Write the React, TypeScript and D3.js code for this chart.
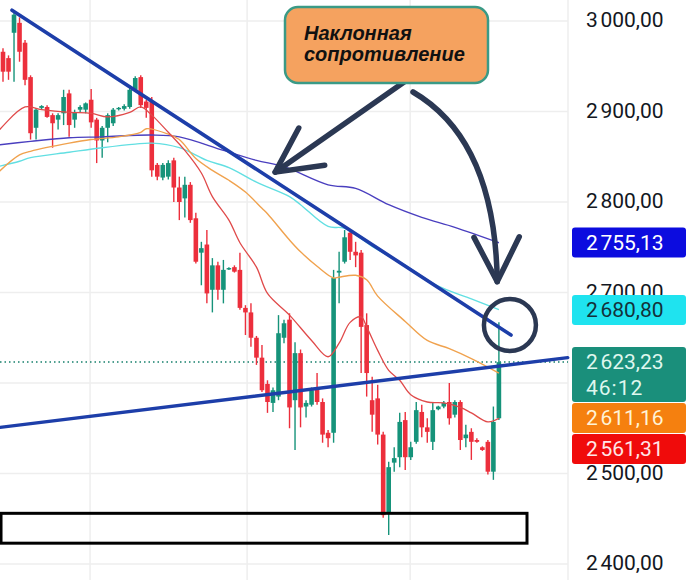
import React from 'react';
import * as d3 from 'd3';

// candles, oldest first
const open = [
  2966, 2959, 2987, 2998, 2976, 2938, 2882, 2904, 2905, 2896,
  2891, 2898, 2920, 2891, 2902, 2902, 2913, 2891, 2868, 2882,
  2887, 2903, 2903, 2905, 2924, 2938, 2911, 2911, 2841, 2827,
  2828, 2846, 2816, 2804, 2819, 2782, 2744, 2753, 2703, 2730,
  2703, 2726, 2728, 2725, 2683, 2678, 2650, 2628, 2599, 2578,
  2585, 2650, 2670, 2581, 2633, 2574, 2576, 2595, 2579, 2545,
  2545, 2722, 2734, 2766, 2745, 2744, 2664, 2581, 2583, 2543,
  2456, 2512, 2518, 2559, 2518, 2535, 2568, 2551, 2535, 2571,
  2574, 2579, 2565, 2579, 2539, 2546, 2537, 2529, 2535, 2502,
  2561,
];
const high = [
  2970, 2962, 3012, 3004, 2979, 2940, 2904, 2907, 2907, 2898,
  2898, 2924, 2924, 2902, 2907, 2910, 2925, 2893, 2884, 2898,
  2904, 2905, 2908, 2929, 2939, 2940, 2913, 2916, 2843, 2843,
  2846, 2849, 2828, 2828, 2822, 2788, 2756, 2769, 2738, 2734,
  2736, 2728, 2730, 2744, 2686, 2688, 2652, 2642, 2603, 2595,
  2675, 2670, 2677, 2645, 2637, 2581, 2595, 2611, 2583, 2548,
  2725, 2745, 2769, 2769, 2756, 2747, 2677, 2607, 2598, 2546,
  2513, 2529, 2567, 2568, 2535, 2579, 2576, 2561, 2578, 2575,
  2580, 2600, 2581, 2581, 2554, 2550, 2539, 2530, 2537, 2574,
  2667,
];
const low = [
  2933, 2935, 2933, 2955, 2929, 2869, 2869, 2902, 2893, 2860,
  2880, 2885, 2872, 2882, 2899, 2898, 2882, 2843, 2849, 2866,
  2884, 2901, 2901, 2903, 2922, 2904, 2893, 2828, 2824, 2824,
  2825, 2800, 2780, 2783, 2777, 2732, 2708, 2688, 2678, 2692,
  2688, 2725, 2722, 2681, 2653, 2640, 2620, 2590, 2567, 2568,
  2581, 2644, 2550, 2526, 2551, 2562, 2574, 2576, 2534, 2529,
  2534, 2688, 2732, 2736, 2728, 2611, 2585, 2546, 2532, 2451,
  2432, 2502, 2507, 2504, 2515, 2533, 2540, 2534, 2526, 2570,
  2572, 2554, 2562, 2526, 2529, 2515, 2534, 2525, 2499, 2493,
  2559,
];
const close = [
  2944, 2944, 3007, 2966, 2935, 2876, 2902, 2906, 2894, 2887,
  2896, 2916, 2885, 2899, 2905, 2909, 2888, 2868, 2882, 2896,
  2902, 2904, 2906, 2924, 2937, 2907, 2904, 2835, 2828, 2841,
  2843, 2816, 2800, 2819, 2780, 2734, 2749, 2699, 2730, 2703,
  2725, 2727, 2723, 2683, 2678, 2650, 2628, 2592, 2579, 2592,
  2655, 2666, 2573, 2633, 2573, 2578, 2592, 2579, 2543, 2539,
  2716, 2724, 2761, 2745, 2741, 2662, 2611, 2565, 2543, 2454,
  2507, 2517, 2557, 2518, 2529, 2570, 2551, 2546, 2570, 2574,
  2578, 2561, 2579, 2537, 2543, 2535, 2535, 2526, 2502, 2557,
  2623,
];

// moving averages: [candle index, price]
const maRed: [number, number][] = [
  [-1, 2877], [4, 2905], [7, 2902], [12, 2899], [16, 2898], [19, 2894], [23, 2899],
  [25, 2905], [27, 2896], [30, 2877], [33, 2857], [36, 2832], [38, 2806], [41, 2780],
  [43, 2755], [46, 2728], [48, 2699], [52, 2675], [56, 2647], [59, 2629], [61, 2644],
  [63, 2667], [65, 2673], [66, 2662], [68, 2636], [70, 2614], [72, 2603], [74, 2587],
  [77, 2579], [80, 2578], [83, 2573], [85, 2567], [88, 2557], [90, 2561],
];
const maOrange: [number, number][] = [
  [-1, 2832], [3, 2852], [5, 2856], [12, 2865], [16, 2869], [21, 2872], [25, 2877],
  [26, 2881], [30, 2875], [32, 2869], [35, 2848], [38, 2835], [41, 2824], [44, 2811],
  [47, 2793], [48, 2787], [52, 2758], [54, 2745], [57, 2729], [60, 2716], [61, 2717],
  [64, 2719], [66, 2714], [68, 2696], [73, 2668], [77, 2647], [81, 2638], [85, 2627],
  [90, 2611],
];
const maCyan: [number, number][] = [
  [-1, 2839], [3, 2845], [5, 2849], [12, 2855], [18, 2860], [24, 2864], [27, 2865],
  [32, 2860], [37, 2846], [41, 2838], [46, 2822], [52, 2806], [54, 2797], [59, 2773],
  [62, 2771], [67, 2751], [73, 2730], [79, 2707], [85, 2693], [90, 2681],
];
const maPurple: [number, number][] = [
  [-1, 2863], [5, 2867], [12, 2871], [18, 2872], [27, 2874], [32, 2872], [40, 2857],
  [46, 2846], [51, 2839], [59, 2819], [64, 2815], [70, 2797], [76, 2783], [82, 2772],
  [90, 2755],
];

const priceTicks = [3000, 2900, 2800, 2700, 2600, 2500, 2400];
const timeGrid = [15.8, 44.3, 73.9];

// drawn lines: [index, price]
const resistLine: [number, number][] = [[1.63, 3012], [92.2, 2653]];
const supportLine: [number, number][] = [[-0.54, 2551], [102.5, 2628]];
const zoneIdx = [-0.36, 95.1];
const zonePrice = [2423, 2456];

const lastPrice = 2623.23;
const countdown = '46:12';
const tags = [
  { value: 2755.13, fill: '#0c0cdf', text: '#ffffff', lines: 1 },
  { value: 2680.8, fill: '#1fe3ef', text: '#13313a', lines: 1 },
  { value: lastPrice, fill: '#1a8f7b', text: '#dff7ee', lines: 2 },
  { value: 2611.16, fill: '#f5800f', text: '#fff3d6', lines: 1 },
  { value: 2561.31, fill: '#f00b0b', text: '#ffe6e6', lines: 1 },
];

const W = 692;
const H = 580;
const plotRight = 568;
const UP = '#16937a';
const DOWN = '#ec2f3c';
const NAVY = '#2b3853';

const fmt = d3.formatLocale({
  decimal: ',',
  thousands: '\u202f',
  grouping: [3],
  currency: ['', ''],
}).format(',.2f');

export default function App() {
  const x = d3.scaleLinear().domain([0, 90]).range([3, 498.9]);
  const y = d3.scaleLinear().domain([2400, 3000]).range([564, 21]);

  const maLine = d3.line<[number, number]>()
    .x(d => x(d[0]))
    .y(d => y(d[1]))
    .curve(d3.curveCatmullRom.alpha(0.5));

  const bodyW = 4.6;

  // stack the price tags so they don't overlap
  let prevBottom = -Infinity;
  const placed = tags.map(t => {
    const h = t.lines === 2 ? 55 : 30;
    const top = Math.max(y(t.value) - 15, prevBottom + 1);
    prevBottom = top + h;
    return { ...t, top, h };
  });
  const hiddenTick = (p: number) =>
    placed.some(t => y(p) > t.top + 4 && y(p) < t.top + t.h - 4);

  // arrows
  const a1tail = [407, 80];
  const a1tip = [x(49.4), y(2833)];
  const a2tail = [413, 92];
  const a2tip = [x(89.7), y(2712)];
  const a2ctrl = [a2tip[0] - 2, 140];

  const head = (tip: number[], from: number[], len = 50, spread = 0.47) => {
    const ang = Math.atan2(from[1] - tip[1], from[0] - tip[0]);
    const p1 = [tip[0] + len * Math.cos(ang - spread), tip[1] + len * Math.sin(ang - spread)];
    const p2 = [tip[0] + len * Math.cos(ang + spread), tip[1] + len * Math.sin(ang + spread)];
    return `M${p1[0]},${p1[1]}L${tip[0]},${tip[1]}L${p2[0]},${p2[1]}`;
  };

  const labelFont = { fontFamily: 'Roboto, "Noto Sans", sans-serif', fontSize: 21, letterSpacing: 1 };
  const noteFont = {
    fontFamily: '"Liberation Sans", Arial, sans-serif',
    fontWeight: 'bold' as const,
    fontStyle: 'italic' as const,
    fontSize: 20,
  };

  return (
    <svg width={W} height={H} style={{ position: 'absolute', left: 0, top: 0, background: '#fff' }}>
      <rect width={W} height={H} fill="#fff" />

      {/* grid */}
      {priceTicks.map(p => (
        <line key={p} x1={0} x2={plotRight} y1={y(p)} y2={y(p)} stroke="#eeeeee" strokeWidth={1.5} />
      ))}
      {timeGrid.map(t => (
        <line key={t} x1={x(t)} x2={x(t)} y1={0} y2={H} stroke="#eeeeee" strokeWidth={1.5} />
      ))}
      <line x1={plotRight} x2={plotRight} y1={0} y2={H} stroke="#eeeeee" strokeWidth={1.5} />

      {/* last price dotted line */}
      <line x1={0} x2={plotRight} y1={y(lastPrice)} y2={y(lastPrice)}
        stroke="#16806c" strokeWidth={1.6} strokeDasharray="1.5 3" />

      {/* candles */}
      {open.map((o, i) => {
        const c = close[i];
        const col = c >= o ? UP : DOWN;
        const top = y(Math.max(o, c));
        const bot = y(Math.min(o, c));
        return (
          <g key={i}>
            <line x1={x(i)} x2={x(i)} y1={y(high[i])} y2={y(low[i])} stroke={col} strokeWidth={1.4} />
            <rect x={x(i) - bodyW / 2} y={top} width={bodyW} height={Math.max(1.4, bot - top)} fill={col} />
          </g>
        );
      })}

      {/* moving averages */}
      <path d={maLine(maPurple) || ''} fill="none" stroke="#4a3fbf" strokeWidth={1.4} />
      <path d={maLine(maCyan) || ''} fill="none" stroke="#62dfe2" strokeWidth={1.4} />
      <path d={maLine(maOrange) || ''} fill="none" stroke="#f0a24e" strokeWidth={1.4} />
      <path d={maLine(maRed) || ''} fill="none" stroke="#e04a4a" strokeWidth={1.3} />

      {/* trend lines */}
      <line x1={x(resistLine[0][0])} y1={y(resistLine[0][1])} x2={x(resistLine[1][0])} y2={y(resistLine[1][1])}
        stroke="#1d3ea9" strokeWidth={3.6} strokeLinecap="round" />
      <line x1={x(supportLine[0][0])} y1={y(supportLine[0][1])} x2={x(supportLine[1][0])} y2={y(supportLine[1][1])}
        stroke="#1d3ea9" strokeWidth={3.4} strokeLinecap="round" />

      {/* zone */}
      <rect x={x(zoneIdx[0])} y={y(zonePrice[1])} width={x(zoneIdx[1]) - x(zoneIdx[0])}
        height={y(zonePrice[0]) - y(zonePrice[1])} fill="none" stroke="#000" strokeWidth={3} />

      {/* annotation */}
      <circle cx={x(92)} cy={y(2664)} r={26} fill="none" stroke={NAVY} strokeWidth={4.5} />
      <path d={`M${a1tail[0]},${a1tail[1]}L${a1tip[0]},${a1tip[1]}`} stroke={NAVY} strokeWidth={5.5}
        strokeLinecap="round" fill="none" />
      <path d={head(a1tip, a1tail)} stroke={NAVY} strokeWidth={5.5} strokeLinecap="round" strokeLinejoin="round" fill="none" />
      <path d={`M${a2tail[0]},${a2tail[1]}Q${a2ctrl[0]},${a2ctrl[1]} ${a2tip[0]},${a2tip[1]}`} stroke={NAVY}
        strokeWidth={5.5} strokeLinecap="round" fill="none" />
      <path d={head(a2tip, a2ctrl)} stroke={NAVY} strokeWidth={5.5} strokeLinecap="round" strokeLinejoin="round" fill="none" />

      <rect x={285} y={7} width={203} height={76} rx={13} fill="#f5a25f" stroke="#3a9a86" strokeWidth={2.5} />
      <text x={304} y={40} fill="#111" {...noteFont}>Наклонная</text>
      <text x={304} y={61} fill="#111" {...noteFont}>сопротивление</text>

      {/* price axis */}
      {priceTicks.filter(p => !hiddenTick(p)).map(p => (
        <text key={p} x={586} y={y(p)} dy="-1" dominantBaseline="central" fill="#131722" {...labelFont}>
          {fmt(p)}
        </text>
      ))}
      {placed.map(t => (
        <g key={t.value}>
          <rect x={572} y={t.top} width={114} height={t.h} rx={3} fill={t.fill} />
          <text x={586} y={t.top + 15} dominantBaseline="central" fill={t.text} {...labelFont}>
            {fmt(t.value)}
          </text>
          {t.lines === 2 && (
            <text x={586} y={t.top + 41} dominantBaseline="central" fill={t.text} {...labelFont}>
              {countdown}
            </text>
          )}
        </g>
      ))}
    </svg>
  );
}
